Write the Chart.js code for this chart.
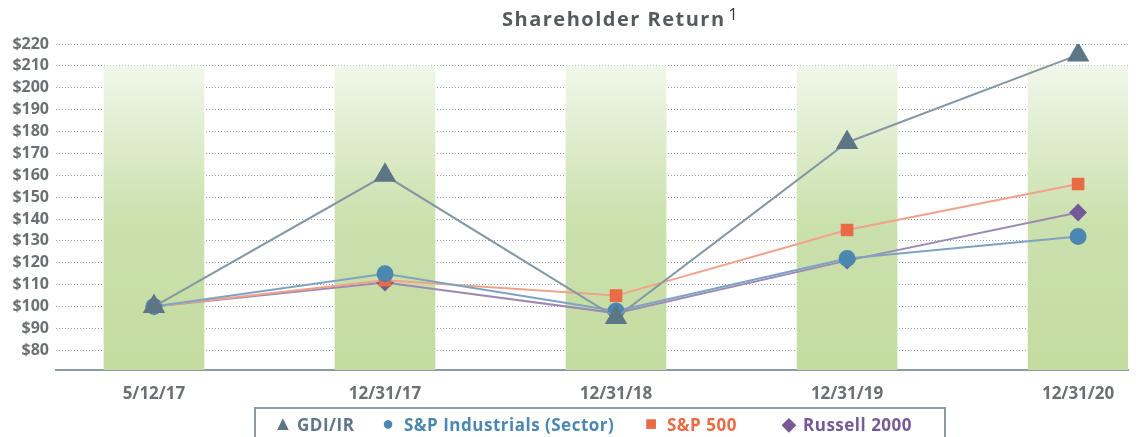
<!doctype html>
<html lang="en">
<head>
  <meta charset="utf-8">
  <title>Shareholder Return</title>
  <style>
    * { margin: 0; padding: 0; }
    body { width: 1141px; height: 437px; background: white; position: relative; overflow: hidden;
      font-family: "Open Sans", sans-serif; }
    .chartBox { position: absolute; left: 0; top: 0; width: 1141px; height: 437px; }
    .title { position: absolute; left: 502px; top: 3px; font-weight: 700; font-size: 20px; letter-spacing: 1.5px; color: #555a5e; white-space: nowrap; }
    .title sup { font-weight: 400; font-size: 16px; color: #333; vertical-align: 6px; margin-left: 3px; letter-spacing: 0; }
    .legend { position: absolute; left: 254px; top: 407px; width: 692px; height: 36px; border: 2px solid #8e9ba5; box-sizing: border-box; }
    .legend span { font-weight: 700; font-size: 17px; letter-spacing: 0.5px; white-space: nowrap; position: absolute; top: 4px; }
    .legend span.sym { letter-spacing: 0; }
  </style>
</head>
<body>
<div class="chartBox"><canvas id="myChart"></canvas></div>
<div class="title">Shareholder Return<sup>1</sup></div>
<div class="legend" id="legend"></div>

<script src="https://cdn.jsdelivr.net/npm/chart.js"></script>
<script>
  // data
  const dates = ['5/12/17', '12/31/17', '12/31/18', '12/31/19', '12/31/20'];
  const gdi = [100, 160, 95, 175, 215];
  const spIndustrials = [100, 115, 98, 122, 132];
  const sp500 = [100, 112, 105, 135, 156];
  const russell = [100, 111, 97, 121, 143];
  const bandTop = [210, 210, 210, 210, 210];
  const yTicks = [80, 90, 100, 110, 120, 130, 140, 150, 160, 170, 180, 190, 200, 210, 220];

  const series = [
    { name: 'GDI/IR', values: gdi, mark: '#5d7686', line: '#8597a3', style: 'triangle', r: 11, sym: '▲', symSize: 20, symTop: 0, symLeft: 17, left: 41 },
    { name: 'S&P Industrials (Sector)', values: spIndustrials, mark: '#4c87b2', line: '#7ea3c2', style: 'circle', r: 7.5, sym: '●', symSize: 20, symTop: 0, symLeft: 126, left: 148 },
    { name: 'S&P 500', values: sp500, mark: '#e96b45', line: '#f0a28b', style: 'rect', r: 7.5, sym: '■', symSize: 20, symTop: 0, symLeft: 389, left: 411 },
    { name: 'Russell 2000', values: russell, mark: '#765a95', line: '#9c89b4', style: 'rectRot', r: 7.5, sym: '◆', symSize: 18, symTop: 2, symLeft: 526, left: 547 }
  ];

  const toXY = arr => arr.map((v, i) => ({ x: i, y: v }));

  function bandGradient(context) {
    const chart = context.chart;
    const area = chart.chartArea;
    if (!area) return '#c6dea6';
    const top = chart.scales.y.getPixelForValue(210);
    const g = chart.ctx.createLinearGradient(0, top, 0, area.bottom);
    g.addColorStop(0, '#f1f7ea');
    g.addColorStop(0.5, '#cbe1ae');
    g.addColorStop(1, '#c3dca0');
    return g;
  }

  // lower order is drawn on top, so GDI/IR sits above the others
  const datasets = series.map((s, i) => ({
    type: 'line',
    label: s.name,
    data: toXY(s.values),
    borderColor: s.line,
    borderWidth: 2,
    backgroundColor: s.mark,
    pointBackgroundColor: s.mark,
    pointBorderColor: s.mark,
    pointStyle: s.style,
    pointRadius: s.r,
    tension: 0,
    order: i + 1
  }));
  datasets.push({
    type: 'bar',
    label: 'band',
    data: toXY(bandTop),
    backgroundColor: bandGradient,
    barThickness: 100,
    order: 10
  });

  new Chart(document.getElementById('myChart'), {
    data: { datasets },
    options: {
      responsive: true,
      maintainAspectRatio: false,
      animation: false,
      layout: { padding: { top: 44, right: 10, bottom: 37, left: 0 } },
      scales: {
        x: {
          type: 'linear',
          offset: false,
          min: -0.424,
          max: 4.216,
          afterBuildTicks: axis => { axis.ticks = dates.map((d, i) => ({ value: i })); },
          afterFit: axis => { axis.height = 30; },
          ticks: {
            callback: v => dates[v],
            color: '#6d7073',
            font: { family: 'Open Sans', weight: 'bold', size: 17 },
            padding: 6,
            maxRotation: 0
          },
          grid: { display: false },
          border: { display: true, color: '#8e9ba5', width: 2 }
        },
        y: {
          min: 71,
          max: 220,
          afterBuildTicks: axis => { axis.ticks = yTicks.map(v => ({ value: v })); },
          afterFit: axis => { axis.width = 56; },
          ticks: {
            callback: v => '$' + v,
            color: '#6d7073',
            font: { family: 'Open Sans', weight: 'bold', size: 16 },
            padding: 7
          },
          grid: { color: '#8e9ba8', lineWidth: 1, drawTicks: false },
          border: { display: false, dash: [1, 2] }
        }
      },
      plugins: {
        legend: { display: false },
        title: { display: false },
        tooltip: { enabled: false }
      }
    }
  });

  // legend below the chart
  const legend = document.getElementById('legend');
  series.forEach(s => {
    const sym = document.createElement('span');
    sym.className = 'sym';
    sym.style.left = s.symLeft + 'px';
    sym.style.color = s.mark;
    sym.style.fontSize = s.symSize + 'px';
    sym.style.top = s.symTop + 'px';
    sym.textContent = s.sym;
    legend.appendChild(sym);
    const el = document.createElement('span');
    el.style.left = s.left + 'px';
    el.style.color = s.mark;
    el.textContent = s.name;
    legend.appendChild(el);
  });
</script>
</body>
</html>
